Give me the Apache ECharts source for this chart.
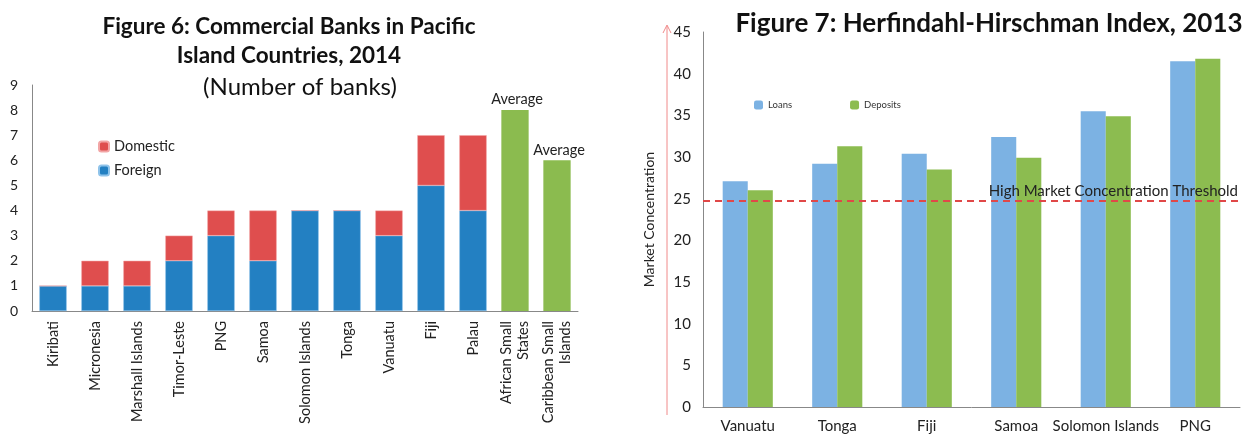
<!DOCTYPE html>
<html><head><meta charset="utf-8">
<script src="https://cdn.jsdelivr.net/npm/echarts@6/dist/echarts.min.js"></script>
<style>html,body{margin:0;padding:0;background:#fff}#c{width:1245px;height:436px}</style>
</head><body><div id="c"></div>
<script>
// Figure 6 data
const banksCategories = ['Kiribati','Micronesia','Marshall Islands','Timor-Leste','PNG','Samoa','Solomon Islands','Tonga','Vanuatu','Fiji','Palau','African Small\nStates','Caribbean Small\nIslands'];
const foreignBanks  = [1,1,1,2,3,2,4,4,3,5,4,null,null];
const domesticBanks = [0,1,1,1,1,2,0,0,1,2,3,null,null];
const averageBanks  = [null,null,null,null,null,null,null,null,null,null,null,8,6];
const banksTicks = [0,1,2,3,4,5,6,7,8,9];

// Figure 7 data
const hhiCategories = ['Vanuatu','Tonga','Fiji','Samoa','Solomon Islands','PNG'];
const hhiLoans    = [27.1,29.2,30.4,32.4,35.5,41.5];
const hhiDeposits = [26.0,31.3,28.5,29.9,34.9,41.8];
const hhiThreshold = 24.8;
const hhiTicks = [0,5,10,15,20,25,30,35,40,45];

const FONT = 'Lato';
const chart = echarts.init(document.getElementById('c'));
chart.setOption({
  animation:false,
  textStyle:{fontFamily:FONT},
  title:[
    {text:'Figure 6: Commercial Banks in Pacific\nIsland Countries, 2014', left:284, top:7, textAlign:'center',
     textStyle:{fontFamily:FONT,fontSize:22.5,fontWeight:'bold',color:'#111',lineHeight:29}},
    {text:'(Number of banks)', left:295, top:70, textAlign:'center',
     textStyle:{fontFamily:FONT,fontSize:24,fontWeight:'normal',color:'#111'}},
    {text:'Figure 7: Herfindahl-Hirschman Index, 2013', left:984, top:6, textAlign:'center',
     textStyle:{fontFamily:FONT,fontSize:26,fontWeight:'bold',color:'#111'}}
  ],
  legend:[
    {data:['Domestic','Foreign'], orient:'vertical', left:93, top:134, itemWidth:10, itemHeight:10, itemGap:9,
     textStyle:{fontFamily:FONT,fontSize:14.5,color:'#222'}, selectedMode:false},
    {data:['Loans','Deposits'], orient:'horizontal', left:749, top:95, itemWidth:9, itemHeight:9, itemGap:58,
     textStyle:{fontFamily:FONT,fontSize:9.5,color:'#333'}, selectedMode:false}
  ],
  grid:[
    {left:32, right:667, top:85, bottom:125},
    {left:703, right:5, top:32, bottom:29}
  ],
  xAxis:[
    {type:'category', gridIndex:0, data:banksCategories,
     axisLine:{lineStyle:{color:'#888'}}, axisTick:{show:false},
     axisLabel:{rotate:90, interval:0, fontFamily:FONT, fontSize:14.5, color:'#222', margin:10, lineHeight:17, align:'right'}},
    {type:'category', gridIndex:1, data:hhiCategories,
     axisLine:{lineStyle:{color:'#888'}}, axisTick:{show:false},
     axisLabel:{interval:0, fontFamily:FONT, fontSize:15, color:'#222', margin:12}}
  ],
  yAxis:[
    {type:'value', gridIndex:0, min:banksTicks[0], max:banksTicks[banksTicks.length-1], interval:1,
     axisLine:{show:true, lineStyle:{color:'#888'}}, axisTick:{show:false}, splitLine:{show:false},
     axisLabel:{fontFamily:FONT, fontSize:14, color:'#222', margin:14}},
    {type:'value', gridIndex:1, min:hhiTicks[0], max:hhiTicks[hhiTicks.length-1], interval:5,
     name:'Market Concentration', nameLocation:'middle', nameGap:47, nameRotate:90,
     nameTextStyle:{fontFamily:FONT, fontSize:14, color:'#222'},
     axisLine:{show:true, lineStyle:{color:'#888'}}, axisTick:{show:false}, splitLine:{show:false},
     axisLabel:{fontFamily:FONT, fontSize:15, color:'#222', margin:12}}
  ],
  series:[
    {name:'Foreign', type:'bar', stack:'b', xAxisIndex:0, yAxisIndex:0, data:foreignBanks, barCategoryGap:'35%',
     itemStyle:{color:'#2380C2', borderColor:'#8fc3ea', borderWidth:0.5}},
    {name:'Domestic', type:'bar', stack:'b', xAxisIndex:0, yAxisIndex:0, data:domesticBanks,
     itemStyle:{color:'#DF4E4E', borderColor:'#f2a5a5', borderWidth:0.5}},
    {name:'Average', type:'bar', stack:'b', xAxisIndex:0, yAxisIndex:0, data:averageBanks,
     itemStyle:{color:'#8BBB4F'},
     label:{show:true, position:'top', formatter:'Average', fontFamily:FONT, fontSize:14.5, color:'#222', distance:3, offset:[2,0]}},
    {name:'Loans', type:'bar', xAxisIndex:1, yAxisIndex:1, data:hhiLoans, barGap:'0%', barCategoryGap:'44%',
     itemStyle:{color:'#7CB2E3'},
     markLine:{silent:true, symbol:'none', data:[{yAxis:hhiThreshold}],
       lineStyle:{color:'#E04848', type:[7,5], width:2},
       label:{show:true, position:'insideEndTop', formatter:'High Market Concentration Threshold', fontFamily:FONT, fontSize:15, color:'#222', distance:2}}},
    {name:'Deposits', type:'bar', xAxisIndex:1, yAxisIndex:1, data:hhiDeposits,
     itemStyle:{color:'#8CBC50'}}
  ],
  graphic:[
    {type:'line', shape:{x1:667, y1:415, x2:667, y2:26}, style:{stroke:'#F08A8A', lineWidth:1}},
    {type:'polyline', shape:{points:[[663,33],[667,25],[671,33]]}, style:{stroke:'#F08A8A', lineWidth:1, fill:null}}
  ]
});
</script></body></html>
